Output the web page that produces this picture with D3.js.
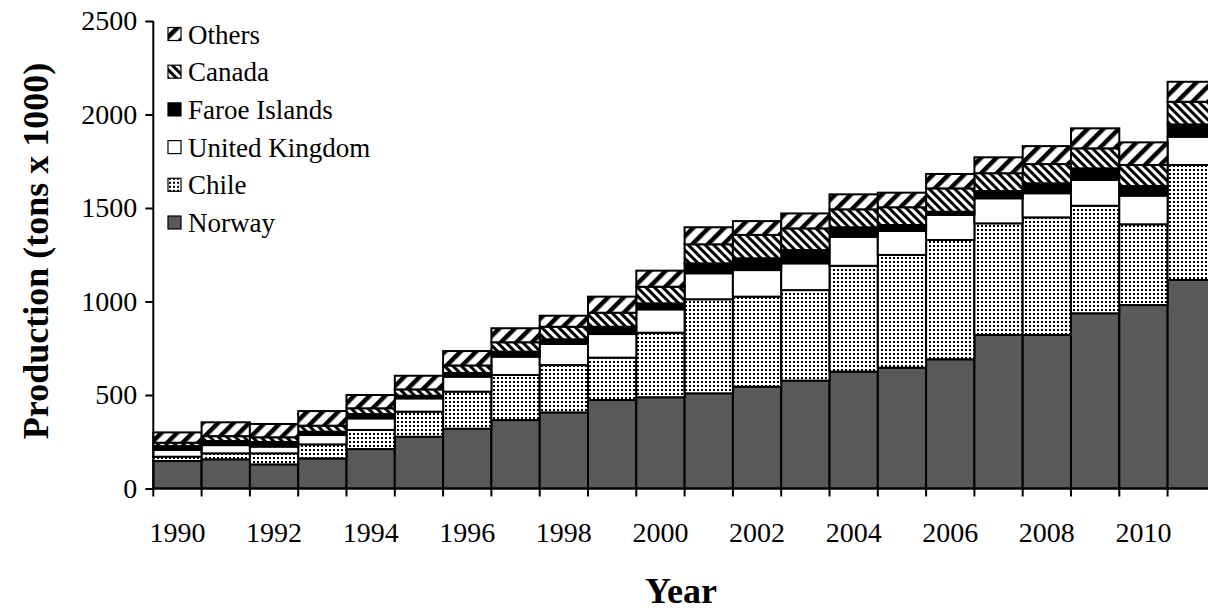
<!DOCTYPE html>
<html>
<head>
<meta charset="utf-8">
<script src="https://cdn.jsdelivr.net/npm/d3@7"></script>
<style>
  html, body { margin: 0; padding: 0; background: #fff; overflow: hidden; }
  svg { display: block; font-family: "Liberation Serif", "Times New Roman", serif; }
</style>
</head>
<body>
<svg id="chart" width="1208" height="610"></svg>
<script>
// Atlantic salmon production by country (tons x 1000)
const years = [1990, 1991, 1992, 1993, 1994, 1995, 1996, 1997, 1998, 1999, 2000,
               2001, 2002, 2003, 2004, 2005, 2006, 2007, 2008, 2009, 2010, 2011];
const norway  = [147, 156, 129, 161, 211, 277, 320, 366, 407, 473, 488, 509, 544, 577, 625, 646, 691, 821, 821, 937, 981, 1115];
const chile   = [23, 32, 59, 75, 102, 134, 198, 241, 253, 227, 345, 503, 482, 484, 566, 603, 638, 597, 629, 575, 432, 615];
const uk      = [36, 44, 36, 50, 62, 71, 80, 98, 113, 126, 125, 139, 142, 143, 155, 128, 134, 134, 129, 138, 153, 151];
const faroe   = [21, 22, 25, 18, 23, 14, 20, 27, 25, 39, 32, 53, 63, 71, 51, 32, 17, 39, 53, 62, 52, 66];
const canada  = [18, 26, 25, 32, 31, 34, 40, 50, 67, 75, 89, 102, 125, 116, 96, 95, 125, 95, 103, 107, 112, 121];
const others  = [55, 74, 71, 78, 71, 73, 77, 75, 59, 86, 86, 91, 74, 80, 80, 78, 77, 85, 96, 107, 121, 107];

const seriesNames = ["Norway", "Chile", "United Kingdom", "Faroe Islands", "Canada", "Others"];
const seriesValues = [norway, chile, uk, faroe, canada, others];
const yTicks = [0, 500, 1000, 1500, 2000, 2500];
const xLabelYears = [1990, 1992, 1994, 1996, 1998, 2000, 2002, 2004, 2006, 2008, 2010];

const rows = years.map((yr, i) => {
  const r = { year: yr };
  seriesNames.forEach((s, k) => { r[s] = seriesValues[k][i]; });
  return r;
});

const svg = d3.select("#chart");
const defs = svg.append("defs");

// Fill patterns
const fills = {
  "Norway": "#595959",
  "Chile": "url(#pat-dots)",
  "United Kingdom": "#ffffff",
  "Faroe Islands": "#000000",
  "Canada": "url(#pat-narrow)",
  "Others": "url(#pat-wide)"
};

const dots = defs.append("pattern").attr("id", "pat-dots")
  .attr("patternUnits", "userSpaceOnUse").attr("width", 4).attr("height", 4);
dots.append("rect").attr("width", 4).attr("height", 4).attr("fill", "#fff");
dots.append("rect").attr("x", 1).attr("y", 1).attr("width", 2).attr("height", 2).attr("fill", "#000");

const narrow = defs.append("pattern").attr("id", "pat-narrow")
  .attr("patternUnits", "userSpaceOnUse").attr("width", 6).attr("height", 6)
  .attr("patternTransform", "rotate(-45)");
narrow.append("rect").attr("width", 6).attr("height", 6).attr("fill", "#fff");
narrow.append("rect").attr("width", 3).attr("height", 6).attr("fill", "#000");

const wide = defs.append("pattern").attr("id", "pat-wide")
  .attr("patternUnits", "userSpaceOnUse").attr("width", 11).attr("height", 11)
  .attr("patternTransform", "rotate(45)");
wide.append("rect").attr("width", 11).attr("height", 11).attr("fill", "#fff");
wide.append("rect").attr("width", 4.5).attr("height", 11).attr("fill", "#000");

// Scales
const x = d3.scaleBand().domain(years).range([153.3, 153.3 + 48.3 * years.length]).padding(0);
const y = d3.scaleLinear().domain([0, 2500]).range([488.5, 21]);

// Stacked bars
const stacked = d3.stack().keys(seriesNames)(rows);
svg.append("g").selectAll("g")
  .data(stacked)
  .join("g")
  .attr("fill", d => fills[d.key])
  .selectAll("rect")
  .data(d => d)
  .join("rect")
  .attr("x", d => x(d.data.year))
  .attr("width", x.bandwidth())
  .attr("y", d => y(d[1]))
  .attr("height", d => y(d[0]) - y(d[1]))
  .attr("stroke", "#000")
  .attr("stroke-width", 2);

// Y axis
const yAxis = svg.append("g")
  .attr("transform", "translate(153.3,0)")
  .call(d3.axisLeft(y).tickValues(yTicks).tickSize(8).tickPadding(8).tickFormat(d3.format("d")));
yAxis.select(".domain").attr("stroke", "#000").attr("stroke-width", 2).attr("d", `M0,${y(2500)}V${y(0)}`);
yAxis.selectAll(".tick line").attr("stroke", "#000").attr("stroke-width", 2);
yAxis.selectAll(".tick text")
  .attr("font-family", "Liberation Serif, Times New Roman, serif")
  .attr("font-size", 28).attr("fill", "#000");

// X axis: ticks on category boundaries, labels every other year
const xa = svg.append("g");
xa.append("line")
  .attr("x1", 153.3).attr("x2", 1208)
  .attr("y1", y(0)).attr("y2", y(0))
  .attr("stroke", "#000").attr("stroke-width", 2);
xa.selectAll("line.tk")
  .data(years)
  .join("line").attr("class", "tk")
  .attr("x1", d => x(d)).attr("x2", d => x(d))
  .attr("y1", y(0)).attr("y2", y(0) + 8)
  .attr("stroke", "#000").attr("stroke-width", 2);
xa.selectAll("text")
  .data(xLabelYears)
  .join("text")
  .attr("x", d => x(d) + x.bandwidth() / 2)
  .attr("y", 541.5)
  .attr("text-anchor", "middle")
  .attr("font-size", 28)
  .attr("fill", "#000")
  .text(d => d);

// Axis titles
svg.append("text")
  .attr("transform", "translate(48,251) rotate(-90)")
  .attr("text-anchor", "middle")
  .attr("font-size", 36).attr("font-weight", "bold")
  .text("Production (tons x 1000)");

svg.append("text")
  .attr("x", 681).attr("y", 603)
  .attr("text-anchor", "middle")
  .attr("font-size", 36).attr("font-weight", "bold")
  .text("Year");

// Legend (top series first)
const legendOrder = seriesNames.slice().reverse();
const lg = svg.append("g").selectAll("g")
  .data(legendOrder)
  .join("g")
  .attr("transform", (d, i) => `translate(168,${34 + i * 37.7})`);
lg.append("rect")
  .attr("x", 0).attr("y", -6.5).attr("width", 13).attr("height", 13)
  .attr("fill", d => fills[d]).attr("stroke", "#000").attr("stroke-width", 1.2);
lg.append("text")
  .attr("x", 20).attr("y", 9.5)
  .attr("font-size", 27).attr("fill", "#000")
  .text(d => d);
</script>
</body>
</html>
